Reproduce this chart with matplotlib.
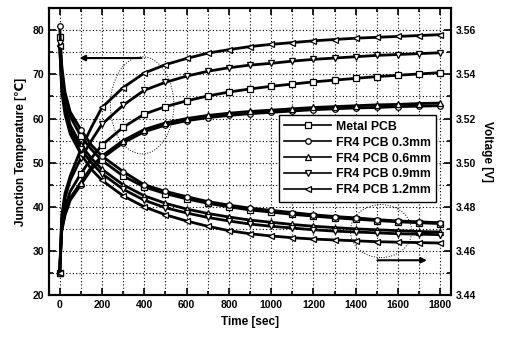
#coding=utf-8
"""
junction temperature / voltage vs time, metal PCB and FR4 PCB
"""
import matplotlib
matplotlib.use("Agg")
import numpy as np
from matplotlib import pyplot as plt
from matplotlib.patches import Ellipse
from matplotlib.ticker import MultipleLocator

plt.rcParams['font.family'] = ['Liberation Sans', 'DejaVu Sans']
plt.rcParams['font.weight'] = 'bold'

# time axis [sec]
time = [0, 10, 25, 50, 100, 150, 200, 300, 400, 500, 600, 700, 800, 900,
        1000, 1100, 1200, 1300, 1400, 1500, 1600, 1700, 1800]

labels = ["Metal PCB", "FR4 PCB 0.3mm", "FR4 PCB 0.6mm", "FR4 PCB 0.9mm", "FR4 PCB 1.2mm"]
markers = ["s", "o", "^", "v", "<"]

# junction temperature [C]
temp_metal = [25, 36, 40, 43.5, 47.5, 51, 54, 58, 61, 62.7, 64, 65.1, 66, 66.7,
              67.3, 67.8, 68.3, 68.7, 69.1, 69.5, 69.8, 70.1, 70.4]
temp_03 = [25, 34.5, 38, 41.5, 45, 48.5, 51, 54.5, 57, 58.5, 59.5, 60.2, 60.7, 61.1,
           61.4, 61.7, 62.0, 62.2, 62.4, 62.5, 62.7, 62.8, 62.9]
temp_06 = [25, 35, 38.5, 42, 45.5, 49, 51.5, 55, 57.5, 59, 60, 60.7, 61.2, 61.6,
           61.9, 62.2, 62.5, 62.7, 62.9, 63.1, 63.2, 63.4, 63.5]
temp_09 = [25, 37, 42, 46, 51, 55, 58.7, 63, 66.4, 68.2, 69.6, 70.7, 71.5, 72.1,
           72.5, 73.0, 73.4, 73.7, 74.0, 74.3, 74.5, 74.7, 74.9]
temp_12 = [25, 38, 43, 47, 53, 58, 62.5, 67, 70.3, 72.2, 73.6, 74.8, 75.6, 76.3,
           76.8, 77.2, 77.6, 77.9, 78.2, 78.4, 78.6, 78.8, 79.0]

# voltage [V]
volt_metal = [3.557, 3.540, 3.530, 3.521, 3.512, 3.506, 3.501, 3.494, 3.489, 3.486,
              3.4836, 3.4816, 3.480, 3.4786, 3.4776, 3.4766, 3.4758, 3.475, 3.4744,
              3.4738, 3.4732, 3.4728, 3.4724]
volt_03 = [3.562, 3.544, 3.532, 3.523, 3.515, 3.508, 3.503, 3.496, 3.490, 3.487,
           3.4846, 3.4824, 3.4808, 3.4794, 3.4784, 3.4774, 3.4764, 3.4756, 3.475,
           3.4742, 3.4736, 3.4732, 3.4728]
volt_06 = [3.554, 3.536, 3.526, 3.517, 3.508, 3.502, 3.497, 3.490, 3.485, 3.4816,
           3.479, 3.477, 3.4754, 3.474, 3.473, 3.472, 3.4712, 3.4706, 3.470,
           3.4696, 3.4692, 3.4688, 3.4686]
volt_09 = [3.554, 3.534, 3.524, 3.515, 3.506, 3.500, 3.495, 3.488, 3.483, 3.4796,
           3.4772, 3.4752, 3.4736, 3.4722, 3.4712, 3.4704, 3.4696, 3.469, 3.4686,
           3.4682, 3.4678, 3.4676, 3.4674]
volt_12 = [3.553, 3.532, 3.522, 3.513, 3.504, 3.497, 3.492, 3.485, 3.480, 3.4764,
           3.4736, 3.4712, 3.4692, 3.4678, 3.4668, 3.466, 3.4654, 3.465, 3.4646,
           3.4642, 3.464, 3.4638, 3.4636]

temps = [temp_metal, temp_03, temp_06, temp_09, temp_12]
volts = [volt_metal, volt_03, volt_06, volt_09, volt_12]

# markers only every 100 sec
mark_idx = [i for i, t in enumerate(time) if t % 100 == 0]

fig = plt.figure(figsize=(5.06, 3.4), dpi=100)
ax = fig.add_axes([0.097, 0.132, 0.794, 0.844])
ax2 = ax.twinx()

style = dict(color="k", lw=2.0, markersize=4, markerfacecolor="white",
             markeredgecolor="k", markeredgewidth=0.9, markevery=mark_idx)

handles = []
for y, m, lab in zip(temps, markers, labels):
    h, = ax.plot(time, y, marker=m, label=lab, **style)
    handles.append(h)
for y, m in zip(volts, markers):
    ax2.plot(time, y, marker=m, **style)

ax.set_xlim(-50, 1850)
ax.set_ylim(20, 85)
ax2.set_ylim(3.44, 3.57)

ax.xaxis.set_major_locator(MultipleLocator(200))
ax.xaxis.set_minor_locator(MultipleLocator(100))
ax.yaxis.set_major_locator(MultipleLocator(10))
ax.yaxis.set_minor_locator(MultipleLocator(5))
ax2.yaxis.set_major_locator(MultipleLocator(0.02))
ax2.yaxis.set_minor_locator(MultipleLocator(0.01))
ax2.yaxis.set_major_formatter(plt.FormatStrFormatter("%.2f"))

ax.grid(which="both", linestyle=(0, (1, 2)), color="k", lw=0.8)

ax.tick_params(which="both", direction="in", top=True, labelsize=7.5, width=1.2)
ax.tick_params(which="major", length=5)
ax.tick_params(which="minor", length=3)
ax2.tick_params(which="both", direction="in", labelsize=7.5, width=1.2)
ax2.tick_params(which="major", length=5)
ax2.tick_params(which="minor", length=3)
for a in (ax, ax2):
    for s in a.spines.values():
        s.set_linewidth(1.5)

ax.set_xlabel("Time [sec]", fontsize=8.5, fontweight="bold")
ax.set_ylabel("Junction Temperature [\u2103]", fontsize=8.5, fontweight="bold")
ax2.set_ylabel("Voltage [V]", fontsize=8.5, fontweight="bold", rotation=270, labelpad=12)

# arrows and dotted ellipses
ax.annotate("", xy=(80, 73.7), xytext=(400, 73.7),
            arrowprops=dict(arrowstyle="-|>", color="k", lw=1.5, mutation_scale=8))
ax.annotate("", xy=(1750, 27.9), xytext=(1490, 27.9),
            arrowprops=dict(arrowstyle="-|>", color="k", lw=1.5, mutation_scale=8))
ax.add_patch(Ellipse((390, 63), 300, 22, angle=0, fill=False, ls=":", lw=0.7, color="k"))
ax.add_patch(Ellipse((1520, 34.5), 290, 12, angle=0, fill=False, ls=":", lw=0.7, color="k"))

leg = ax2.legend(handles=handles, loc="upper left", bbox_to_anchor=(0.572, 0.627),
                 borderaxespad=0, fontsize=8.8, frameon=True, fancybox=False,
                 edgecolor="k", framealpha=1, handlelength=3.8, borderpad=0.45,
                 labelspacing=0.32, handletextpad=0.4)
leg.get_frame().set_linewidth(1.0)
for h in leg.legend_handles:
    h.set_linewidth(1.2)

fig.savefig("out.png", dpi=100)
